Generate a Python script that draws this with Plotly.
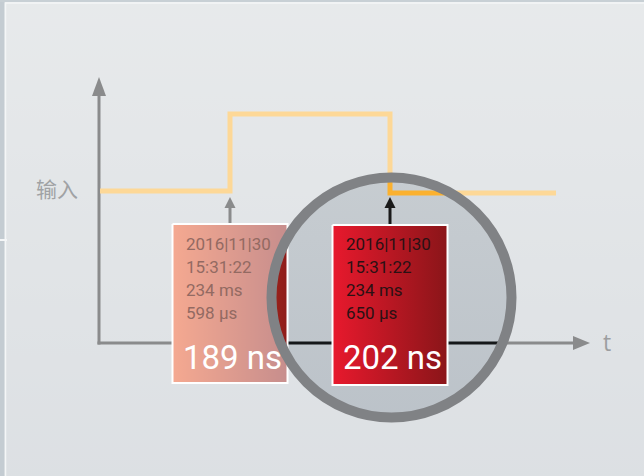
import plotly.graph_objects as go

W, H = 644, 476

# ---- diagram data (plot units = pixels of the 644x476 canvas) ----
axis_origin = (99, 343)
y_axis_top = 77
x_axis_right = 590
axis_labels = ["输入", "t"]

# input signal: one pulse
sig_t = [100, 230, 230, 390, 390, 556]
sig_level = [191, 191, 114, 114, 193, 193]

# time-stamp events (rising / falling edge)
event_t = [230, 390]
event_arrow_tip = [197, 197]
event_box_top = [224, 225]
event_box_bottom = [383, 385]
event_lines = [
    ["2016|11|30", "15:31:22", "234 ms", "598 µs"],
    ["2016|11|30", "15:31:22", "234 ms", "650 µs"],
]
event_resolution = ["189 ns", "202 ns"]

# magnifier
lens_center = (391.5, 297.5)
lens_radius = 120

BOX_HALF = 57.5
DARK = "#151719"

fig = go.Figure()

# background (pre-veil colours)
fig.add_trace(go.Scatter(
    x=[0, W, W, 0, 0], y=[0, 0, H, H, 0], mode="lines", line=dict(width=0),
    fill="toself",
    fillgradient=dict(type="vertical",
                      colorscale=[[0, "rgb(185,192,199)"], [1, "rgb(207,212,215)"]]),
    hoverinfo="skip", showlegend=False))

def line(xs, ys, color, width):
    fig.add_trace(go.Scatter(x=xs, y=ys, mode="lines",
                             line=dict(color=color, width=width),
                             hoverinfo="skip", showlegend=False))

def head(pts, color):
    xs = [p[0] for p in pts] + [pts[0][0]]
    ys = [p[1] for p in pts] + [pts[0][1]]
    fig.add_trace(go.Scatter(x=xs, y=ys, mode="lines", line=dict(width=0, color=color),
                             fill="toself", fillcolor=color,
                             hoverinfo="skip", showlegend=False))

ox, oy = axis_origin
# axes
line([ox, ox], [oy + 1.5, y_axis_top + 17], DARK, 3)
head([(ox - 7, y_axis_top + 19), (ox, y_axis_top), (ox + 7, y_axis_top + 19)], DARK)
line([ox - 1.5, x_axis_right - 16], [oy, oy], DARK, 3)
head([(x_axis_right - 17, oy - 7), (x_axis_right, oy), (x_axis_right - 17, oy + 7)], DARK)

# signal
fig.add_trace(go.Scatter(x=sig_t, y=sig_level, mode="lines",
                         line=dict(color="#fbb12f", width=5, shape="linear"),
                         hoverinfo="skip", showlegend=False))

# event arrows and boxes
box_fills = [
    [[0, "rgb(234,82,34)"], [1, "rgb(142,28,26)"]],
    [[0, "#e8192d"], [1, "#8a1519"]],
]
for i, t in enumerate(event_t):
    tip = event_arrow_tip[i]
    col = DARK if i == 0 else "#1a1a1a"
    line([t, t], [event_box_top[i], tip + 8], col, 3)
    head([(t - 5.5, tip + 11), (t, tip), (t + 5.5, tip + 11)], col)
    x0, x1 = t - BOX_HALF, t + BOX_HALF
    y0, y1 = event_box_top[i], event_box_bottom[i]
    fig.add_trace(go.Scatter(
        x=[x0, x1, x1, x0, x0], y=[y0, y0, y1, y1, y0], mode="lines",
        line=dict(color="white", width=2), fill="toself",
        fillgradient=dict(type="horizontal", colorscale=box_fills[i]),
        hoverinfo="skip", showlegend=False))

# magnifier veil (outside the lens) and ring
cx, cy = lens_center
r = lens_radius - 2.5
k = 0.5523 * r
circle_path = (f"M{cx + r},{cy} C{cx + r},{cy + k} {cx + k},{cy + r} {cx},{cy + r} "
               f"C{cx - k},{cy + r} {cx - r},{cy + k} {cx - r},{cy} "
               f"C{cx - r},{cy - k} {cx - k},{cy - r} {cx},{cy - r} "
               f"C{cx + k},{cy - r} {cx + r},{cy - k} {cx + r},{cy} Z")
veil_path = f"M0,0 L{W},0 L{W},{H} L0,{H} Z " + circle_path
shapes = [
    dict(type="path", path=veil_path, xref="x", yref="y", layer="above",
         fillcolor="rgba(255,255,255,0.5)", line=dict(width=0), fillrule="evenodd"),
    dict(type="circle", xref="x", yref="y", layer="above",
         x0=cx - lens_radius, x1=cx + lens_radius, y0=cy - lens_radius, y1=cy + lens_radius,
         line=dict(color="#808285", width=10), fillcolor="rgba(0,0,0,0)"),
    # screenshot frame
    dict(type="rect", xref="x", yref="y", layer="above", x0=0, x1=4.5, y0=0, y1=H,
         fillcolor="#c4ccd2", line=dict(width=0)),
    dict(type="rect", xref="x", yref="y", layer="above", x0=0, x1=W, y0=0, y1=2,
         fillcolor="#c8d0d5", line=dict(width=0)),
    dict(type="line", xref="x", yref="y", layer="above", x0=5.5, x1=5.5, y0=3, y1=H,
         line=dict(color="#f4f6f7", width=1.5)),
    dict(type="line", xref="x", yref="y", layer="above", x0=5, x1=W, y0=3, y1=3,
         line=dict(color="#f4f6f7", width=1.5)),
    dict(type="line", xref="x", yref="y", layer="above", x0=0, x1=7, y0=240, y1=240,
         line=dict(color="#f4f6f7", width=2)),
]

FONT = "Roboto, Open Sans, sans-serif"
ann = [
    dict(x=57, y=188, text=axis_labels[0], showarrow=False, xanchor="center", yanchor="middle",
         font=dict(family="Noto Sans CJK SC", size=21, color="#a0a2a4")),
    dict(x=607, y=342, text=axis_labels[1], showarrow=False, xanchor="center", yanchor="middle",
         font=dict(family="Open Sans", size=23, color="#9c9ea0")),
]
text_colors = ["#936a62", "#2b1114"]
for i, t in enumerate(event_t):
    xl = t - BOX_HALF + 11
    for j, s in enumerate(event_lines[i]):
        ann.append(dict(x=xl, y=244 + 23 * j, text=s, showarrow=False,
                        xanchor="left", yanchor="middle",
                        font=dict(family=FONT, size=17, color=text_colors[i])))
    ann.append(dict(x=xl - 3, y=357, text=event_resolution[i], showarrow=False,
                    xanchor="left", yanchor="middle",
                    font=dict(family=FONT, size=33, color="white")))

fig.update_layout(
    width=W, height=H, margin=dict(l=0, r=0, t=0, b=0),
    paper_bgcolor="#e0e3e6", plot_bgcolor="#e0e3e6",
    xaxis=dict(range=[0, W], visible=False, fixedrange=True),
    yaxis=dict(range=[H, 0], visible=False, fixedrange=True),
    shapes=shapes, annotations=ann, showlegend=False,
)
fig.write_html("out.html", config={"displayModeBar": False},
               post_script="document.body.style.margin='0';document.body.style.overflow='hidden';")
